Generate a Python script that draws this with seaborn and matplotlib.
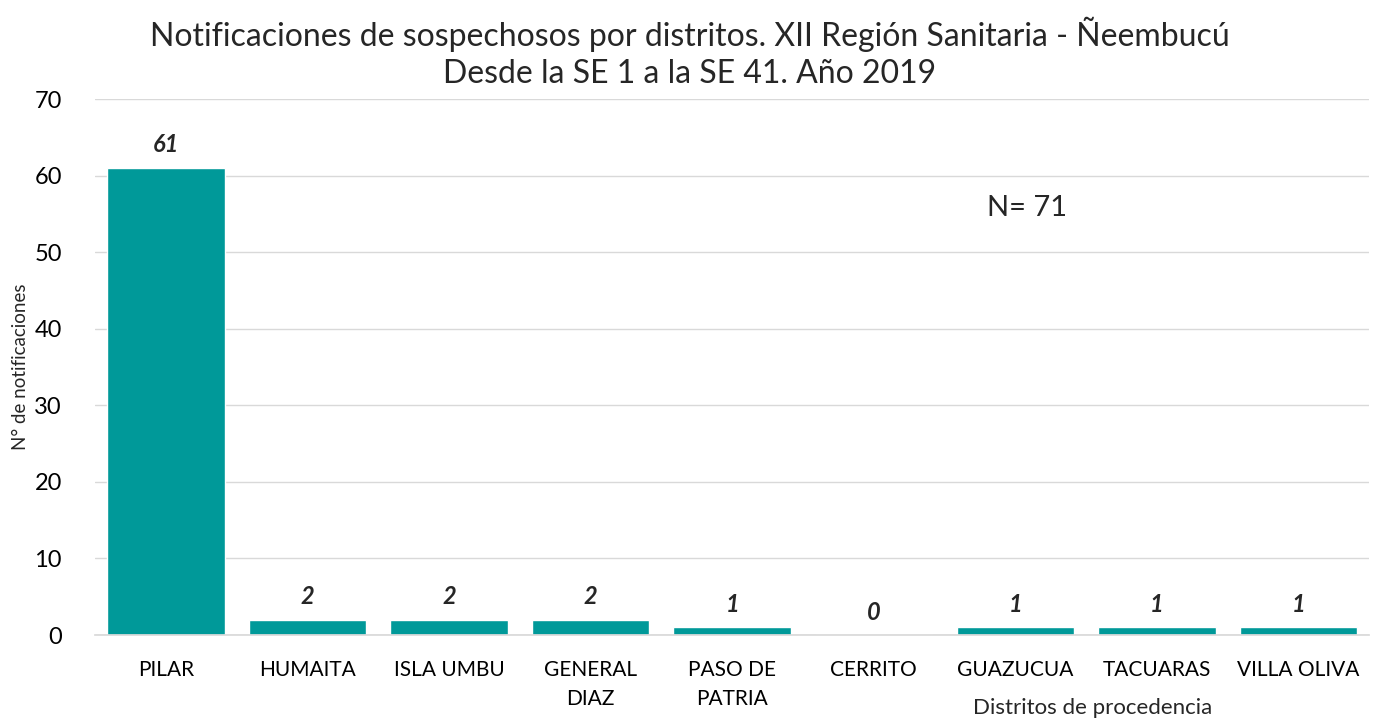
import matplotlib
matplotlib.use("Agg")
import matplotlib.pyplot as plt
import seaborn as sns
import pandas as pd

districts = ["PILAR", "HUMAITA", "ISLA UMBU", "GENERAL\nDIAZ", "PASO DE\nPATRIA",
             "CERRITO", "GUAZUCUA", "TACUARAS", "VILLA OLIVA"]
counts = [61, 2, 2, 2, 1, 0, 1, 1, 1]

sns.set_theme(style="white")
plt.rcParams['font.family'] = ['Lato', 'DejaVu Sans']

df = pd.DataFrame({"d": districts, "n": counts})
fig = plt.figure(figsize=(13.79, 7.2), dpi=100)
ax = fig.add_axes([0.069, 0.118, 0.924, 0.7445])
sns.barplot(data=df, x="d", y="n", color="#009999", saturation=1, width=0.83, ax=ax)

ax.set_ylim(0, 70)
ax.set_yticks(range(0, 71, 10))
ax.yaxis.grid(True, color="#d9d9d9", linewidth=1)
ax.set_axisbelow(True)
for s in ["top", "right", "left"]:
    ax.spines[s].set_visible(False)
ax.spines["bottom"].set_color("#d9d9d9")
ax.tick_params(axis="both", length=0)
ax.tick_params(axis="y", labelsize=17, pad=24, colors="black")
ax.tick_params(axis="x", labelsize=15, pad=18, colors="black")
for lbl in ax.get_xticklabels():
    lbl.set_linespacing(1.55)
ax.set_xlabel("")
ax.set_ylabel("N° de notificaciones", fontsize=13.5, labelpad=4)

for i, v in enumerate(counts):
    ax.text(i, v + 1.5, str(v), ha="center", va="bottom", fontsize=17,
            fontweight="bold", fontstyle="italic")

ax.text(6.08, 55.8, "N= 71", ha="center", va="center", fontsize=21)

fig.text(0.5, 0.927, "Notificaciones de sospechosos por distritos. XII Región Sanitaria - Ñeembucú\nDesde la SE 1 a la SE 41. Año 2019",
         ha="center", va="center", fontsize=23, linespacing=1.3)
fig.text(0.792, 0.017, "Distritos de procedencia", ha="center", va="center", fontsize=16)

fig.savefig("out.png", dpi=100)
